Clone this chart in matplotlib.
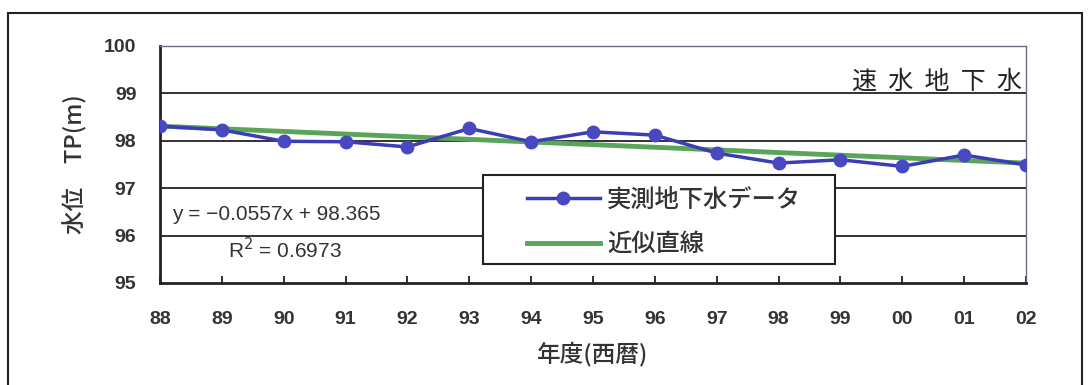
import numpy as np
import matplotlib.pyplot as plt
from matplotlib.patches import Rectangle

plt.rcParams['font.family'] = ['Liberation Sans', 'Noto Sans CJK JP', 'DejaVu Sans']

# 年度 and measured groundwater level (TP m)
years = ['88', '89', '90', '91', '92', '93', '94', '95',
         '96', '97', '98', '99', '00', '01', '02']
level = [98.31, 98.23, 97.99, 97.98, 97.87, 98.26, 97.98, 98.19,
         98.12, 97.74, 97.53, 97.60, 97.46, 97.70, 97.49]
# linear trend (Excel style, x = 1..n)
slope = -0.0557
intercept = 98.365
r2 = 0.6973

jp = ['Noto Sans CJK JP', 'DejaVu Sans']
x = np.arange(1, len(years) + 1)
trend = slope * x + intercept

fig = plt.figure(figsize=(10.89, 3.85), dpi=100)
ax = fig.add_axes([160 / 1089, 1 - 283 / 385, 866 / 1089, 237 / 385])

# outer chart frame
fig.patches.append(Rectangle((8 / 1089, -0.05), 1074 / 1089, 1 - 13 / 385 + 0.05,
                             transform=fig.transFigure, fill=False,
                             edgecolor='#222222', lw=1.5, zorder=0))

ax.set_xlim(1, len(years))
ax.set_ylim(95, 100)
ax.set_yticks([95, 96, 97, 98, 99, 100])
ax.set_xticks(x)
ax.set_xticklabels(years)
for yv in [96, 97, 98, 99]:
    ax.axhline(yv, color='#222222', lw=1.3, zorder=1)

ax.plot(x, level, color='#3c3cb4', lw=2.5, marker='o', markersize=9,
        markerfacecolor='#4848c0', markeredgecolor='#4848c0', zorder=3,
        label='実測地下水データ')
ax.plot(x, trend, color='#5aa55a', lw=3.5, zorder=2, label='近似直線')

for s in ['left', 'bottom']:
    ax.spines[s].set_color('#222222')
    ax.spines[s].set_linewidth(2)
for s in ['top', 'right']:
    ax.spines[s].set_color('#6b6b90')
    ax.spines[s].set_linewidth(1)

ax.tick_params(axis='x', direction='in', length=5, width=1.3, pad=20,
               labelsize=14, labelcolor='#333333', colors='#222222')
ax.tick_params(axis='y', length=0, pad=17, labelsize=14, labelcolor='#333333')
for lab in ax.get_xticklabels() + ax.get_yticklabels():
    lab.set_fontweight('bold')

ax.set_ylabel('水位　TP(m)', family=jp, fontsize=17, color='#333333',
              labelpad=12, fontweight='medium')
ax.set_xlabel('年度(西暦)', family=jp, fontsize=17, color='#333333',
              labelpad=10, fontweight='medium')

ax.text(0.995, 0.85, '速  水  地  下  水', transform=ax.transAxes, ha='right',
        va='center', family=jp, fontsize=18, color='#222222')

ax.text(1.2, 96.45, 'y = −0.0557x + 98.365', fontsize=15, color='#333333',
        va='center')
ax.text(2.1, 95.7, 'R$^2$ = 0.6973', fontsize=15, color='#333333',
        va='center')

# legend box drawn separately so the entries can sit inset from its left edge
ax.add_patch(Rectangle((323 / 866, 19 / 237), 352 / 866, 89 / 237,
                       transform=ax.transAxes, facecolor='white',
                       edgecolor='#222222', lw=1.5, zorder=4))
leg = ax.legend(loc='upper left', bbox_to_anchor=(367 / 866, 96 / 237),
                prop={'family': jp, 'size': 17.5, 'weight': 'medium'},
                frameon=False, borderpad=0, handlelength=3.0,
                handletextpad=0.3, labelspacing=0.75, borderaxespad=0)
leg.set_zorder(5)
for t in leg.get_texts():
    t.set_color('#333333')

fig.savefig('out.png', dpi=100)
